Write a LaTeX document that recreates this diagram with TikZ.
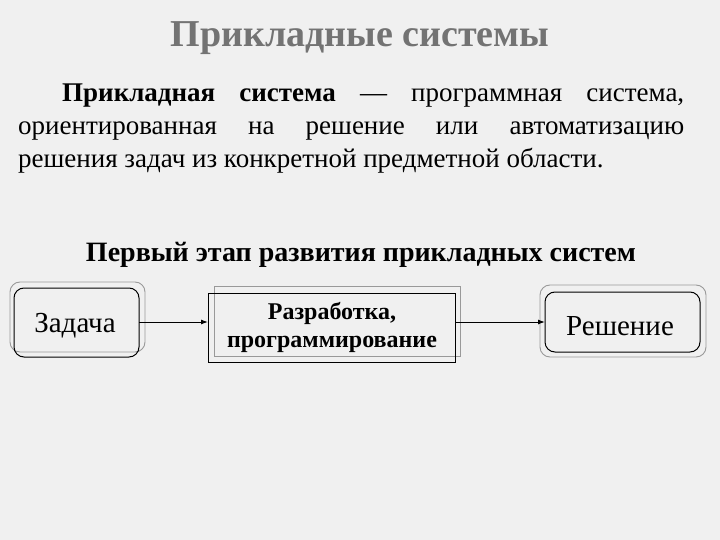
\documentclass[tikz,border=0pt]{standalone}
\usepackage{fontspec}
\setmainfont{Liberation Serif}
\usetikzlibrary{arrows.meta}
\begin{document}
\begin{tikzpicture}[x=1pt,y=-1pt,
  blk/.style={draw=black,line width=1pt},
  gry/.style={draw=gray!80,line width=0.9pt},
  arr/.style={-{Latex[length=7pt,width=5pt]},line width=1pt}]
\fill[gray!12] (0,0) rectangle (720,540);
\useasboundingbox (0,0) rectangle (720,540);
\node[text=gray!90!black,font=\bfseries\fontsize{38}{40}\selectfont] (title) at (360,38) {Прикладные системы};
\node[anchor=north west,text width=666,align=justify,inner sep=0pt,font=\fontsize{27}{33}\selectfont] (para) at (18,84)
 {\hspace*{44pt}\textbf{Прикладная система} — программная система, ориентированная на решение или автоматизацию\linebreak решения задач из конкретной предметной области.};
\node[font=\bfseries\fontsize{28}{30}\selectfont] (head) at (361,255) {Первый этап развития прикладных систем};
% Zadacha
\draw[gry,rounded corners=10] (10,282) rectangle (145,352);
\draw[blk,rounded corners=10] (14,288) rectangle (139,357);
\node[font=\fontsize{29}{30}\selectfont] (z) at (75,326) {Задача};
% middle
\draw[gry] (214,286) rectangle (460,356);
\draw[blk] (208,293) rectangle (455,362);
\node[align=center,font=\bfseries\fontsize{24}{28}\selectfont] (m) at (332,327) {Разработка,\\программирование};
% Reshenie
\draw[gry,rounded corners=10] (540,285) rectangle (706,357);
\draw[blk,rounded corners=10] (545,292) rectangle (700,352);
\node[font=\fontsize{29}{30}\selectfont] (r) at (620,326) {Решение};
\coordinate (a1) at (139,322); \coordinate (b1) at (208,322);
\coordinate (a2) at (455,322); \coordinate (b2) at (545,322);
\draw[arr] (a1) -- (b1);
\draw[arr] (a2) -- (b2);
\end{tikzpicture}
\end{document}
